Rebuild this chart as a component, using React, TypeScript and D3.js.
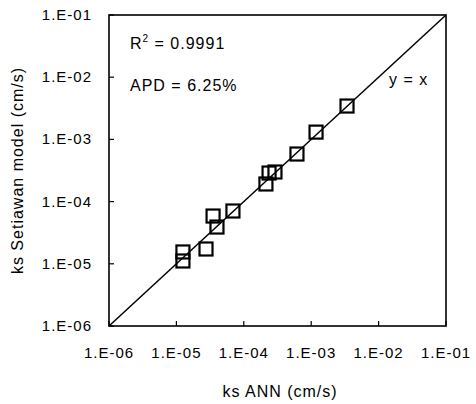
import React from "react"
import * as d3 from "d3"

// data (cm/s)
const ksANN = [1.25e-5, 1.25e-5, 2.75e-5, 3.5e-5, 4.0e-5, 6.9e-5, 2.13e-4, 2.37e-4, 2.9e-4, 6.15e-4, 1.18e-3, 3.4e-3]
const ksSetiawan = [1.55e-5, 1.11e-5, 1.73e-5, 5.86e-5, 3.9e-5, 7.06e-5, 1.92e-4, 2.88e-4, 2.99e-4, 5.82e-4, 1.31e-3, 3.44e-3]
const tickValues = [1e-6, 1e-5, 1e-4, 1e-3, 1e-2, 1e-1]
const tickLabels = ["1.E-06", "1.E-05", "1.E-04", "1.E-03", "1.E-02", "1.E-01"]

const font = "'Liberation Sans', Arial, sans-serif"

export default function App() {
    const width = 476
    const height = 404
    const margin = { left: 109, right: 30, top: 15, bottom: 78 }

    const x = d3.scaleLog()
        .domain([1e-6, 1e-1])
        .range([margin.left, width - margin.right])
    const y = d3.scaleLog()
        .domain([1e-6, 1e-1])
        .range([height - margin.bottom, margin.top])

    const x0 = x.range()[0], x1 = x.range()[1]
    const y0 = y.range()[0], y1 = y.range()[1]
    const box = 13

    return (
        <div style={{ position: "absolute", left: 0, top: 0 }}>
            <svg width={width} height={height} style={{ display: "block", background: "#fff" }}
                fontFamily={font}>
                {/* y = x line */}
                <line x1={x(1e-6)} y1={y(1e-6)} x2={x(1e-1)} y2={y(1e-1)} stroke="#000" strokeWidth={1.5} />

                {/* frame */}
                <rect x={x0} y={y1} width={x1 - x0} height={y0 - y1} fill="none" stroke="#000" strokeWidth={1.6} />

                {/* inward ticks */}
                {tickValues.map((v, i) => (
                    <g key={"t" + i}>
                        <line x1={x(v)} x2={x(v)} y1={y0} y2={y0 - 5} stroke="#000" strokeWidth={1.2} />
                        <line x1={x0} x2={x0 + 5} y1={y(v)} y2={y(v)} stroke="#000" strokeWidth={1.2} />
                    </g>
                ))}

                {/* tick labels */}
                {tickValues.map((v, i) => (
                    <text key={"xl" + i} x={x(v)} y={y0 + 32} textAnchor="middle" fontSize={15} letterSpacing={1}>
                        {tickLabels[i]}
                    </text>
                ))}
                {tickValues.map((v, i) => (
                    <text key={"yl" + i} x={x0 - 17} y={y(v) + 5} textAnchor="end" fontSize={15} letterSpacing={1}>
                        {tickLabels[i]}
                    </text>
                ))}

                {/* points */}
                {ksANN.map((v, i) => (
                    <rect key={"p" + i} x={x(v) - box / 2} y={y(ksSetiawan[i]) - box / 2} width={box} height={box}
                        fill="none" stroke="#000" strokeWidth={2.2} />
                ))}

                {/* annotations */}
                <text x={130} y={49} fontSize={16} letterSpacing={1}>
                    R<tspan fontSize={10} dy={-7}>2</tspan><tspan dy={7}> = 0.9991</tspan>
                </text>
                <text x={130} y={91} fontSize={16} letterSpacing={1}>APD = 6.25%</text>
                <text x={389} y={85} fontSize={16} letterSpacing={1}>y = x</text>

                {/* axis titles */}
                <text x={280} y={397} textAnchor="middle" fontSize={16} letterSpacing={1}>ks ANN (cm/s)</text>
                <text transform={`translate(23, ${(y0 + y1) / 2}) rotate(-90)`} textAnchor="middle" fontSize={16} letterSpacing={1}>
                    ks Setiawan model (cm/s)
                </text>
            </svg>
        </div>
    )
}
